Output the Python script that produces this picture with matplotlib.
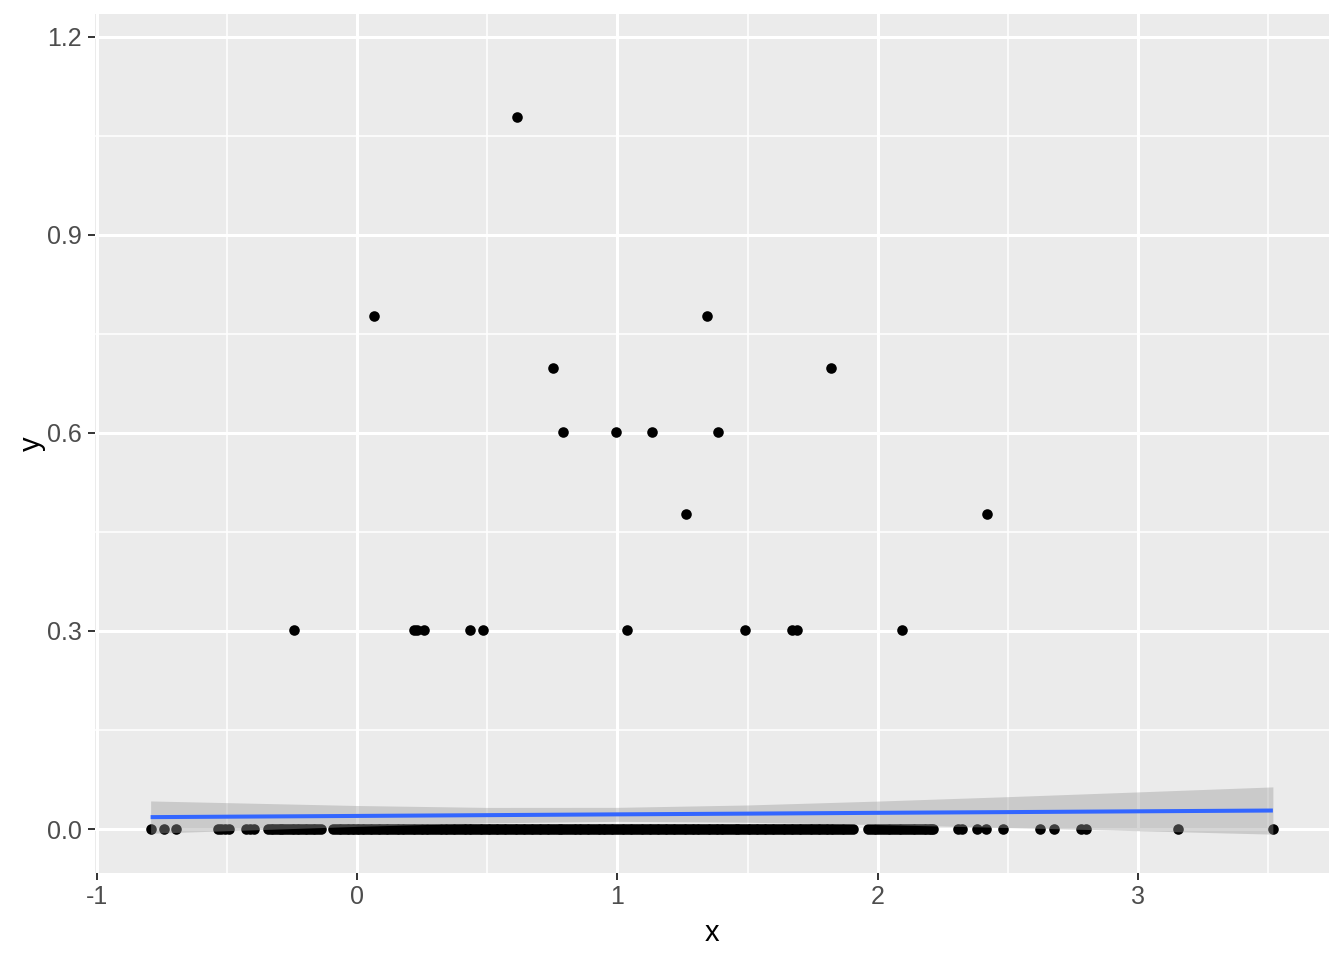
import numpy as np
import matplotlib
matplotlib.use("Agg")
import matplotlib.pyplot as plt

plt.rcParams['font.family'] = ['Liberation Sans', 'DejaVu Sans']
plt.rcParams['axes.unicode_minus'] = False

# points with y > 0
x_hi = [-0.243, 0.065, 0.220, 0.229, 0.256, 0.433, 0.483, 0.615, 0.752, 0.790,
        0.994, 1.036, 1.132, 1.263, 1.343, 1.386, 1.489, 1.672, 1.689, 1.820,
        2.093, 2.419]
y_hi = [0.301, 0.778, 0.301, 0.301, 0.301, 0.301, 0.301, 1.079, 0.699, 0.602,
        0.602, 0.301, 0.602, 0.477, 0.778, 0.602, 0.301, 0.301, 0.301, 0.699,
        0.301, 0.477]

# points lying on y = 0
x_zero = [-0.793, -0.743, -0.695,
          -0.535, -0.521, -0.507, -0.493,
          -0.425, -0.410, -0.397,
          -0.343, -0.322, -0.301, -0.283, -0.262, -0.241, -0.222, -0.201, -0.182,
          -0.160, -0.140,
          -0.092, -0.071, -0.050, -0.031, -0.012,
          0.008, 0.027, 0.049, 0.068, 0.090, 0.111, 0.130, 0.152, 0.171, 0.193,
          0.214, 0.233, 0.255, 0.274, 0.296, 0.317, 0.336, 0.358, 0.377, 0.399,
          0.420, 0.439, 0.461, 0.480, 0.502, 0.523, 0.542, 0.564, 0.583, 0.605,
          0.626, 0.645, 0.667, 0.686, 0.708, 0.729, 0.748, 0.770, 0.789, 0.811,
          0.832, 0.851, 0.873, 0.892, 0.914, 0.935, 0.954, 0.976, 0.995, 1.017,
          1.038, 1.057, 1.079, 1.098, 1.120, 1.141, 1.160, 1.182, 1.201, 1.223,
          1.244, 1.263, 1.285, 1.304, 1.326, 1.347, 1.366, 1.388, 1.407, 1.429,
          1.450, 1.469, 1.491, 1.510, 1.532, 1.553, 1.572, 1.594, 1.613, 1.635,
          1.656, 1.675, 1.697, 1.716, 1.738, 1.759, 1.778, 1.800, 1.819, 1.841,
          1.862, 1.881, 1.907,
          1.963, 1.984, 2.006, 2.027, 2.049, 2.070, 2.091, 2.113, 2.134, 2.156,
          2.177, 2.196, 2.214,
          2.310, 2.325, 2.380, 2.415, 2.480, 2.624, 2.676, 2.780, 2.800,
          3.153, 3.518]

# more zeros inside the solid stretches of the band
x_zero_more = [-0.332, -0.311, -0.292, -0.272, -0.251, -0.231, -0.211, -0.191,
               -0.171, -0.150,
               -0.081, -0.060, -0.040, -0.021, -0.002,
               0.018, 0.038, 0.058, 0.079, 0.100, 0.120, 0.141, 0.161, 0.182,
               0.203, 0.224, 0.244, 0.265, 0.285, 0.306, 0.327, 0.347, 0.367,
               0.388, 0.409, 0.430, 0.450, 0.471, 0.491, 0.512, 0.533, 0.553,
               0.573, 0.594, 0.615, 0.636, 0.656, 0.677, 0.697, 0.718, 0.739,
               0.759, 0.779, 0.800, 0.821, 0.842, 0.862, 0.883, 0.903, 0.924,
               0.945, 0.965, 0.985, 1.006, 1.027, 1.048, 1.068, 1.089, 1.109,
               1.130, 1.151, 1.171, 1.191, 1.212, 1.233, 1.254, 1.274, 1.295,
               1.315, 1.336, 1.357, 1.377, 1.397, 1.418, 1.439, 1.460, 1.480,
               1.501, 1.521, 1.542, 1.563, 1.583, 1.603, 1.624, 1.645, 1.666,
               1.686, 1.707, 1.727, 1.748, 1.769, 1.789, 1.809, 1.830, 1.851,
               1.872, 1.894,
               1.973, 1.995, 2.016, 2.038, 2.059, 2.080, 2.102, 2.123, 2.145,
               2.166, 2.187, 2.205]

# linear smooth
smooth_x = [-0.793, 0.0, 0.5, 1.0, 1.5, 2.0, 2.5, 3.0, 3.518]
smooth_fit = [0.0180, 0.0198, 0.0210, 0.0222, 0.0233, 0.0245, 0.0256, 0.0268, 0.0280]
smooth_se = [0.0245, 0.0158, 0.0117, 0.0106, 0.0131, 0.0178, 0.0234, 0.0294, 0.0358]

x_ticks = [-1, 0, 1, 2, 3]
y_ticks = [0.0, 0.3, 0.6, 0.9, 1.2]

zeros = x_zero + x_zero_more
x_all = np.array(x_hi + zeros)
y_all = np.array(y_hi + [0.0] * len(zeros))
fit = np.array(smooth_fit)
se = np.array(smooth_se)

fig = plt.figure(figsize=(13.44, 9.6), dpi=100)
ax = fig.add_axes([94.5 / 1344, 1 - 872.7 / 960, (1329 - 94.5) / 1344, (872.7 - 14) / 960])
ax.set_facecolor('#EBEBEB')

ax.scatter(x_all, y_all, s=58, color='black', linewidths=0, zorder=3)
ax.fill_between(smooth_x, fit - se, fit + se, color='#999999', alpha=0.4, linewidth=0, zorder=4)
ax.plot(smooth_x, fit, color='#3366FF', linewidth=2.9, zorder=5, solid_capstyle='butt')

ax.set_xlim(-1.0086, 3.7336)
ax.set_ylim(-0.0662, 1.2348)
ax.set_xticks(x_ticks)
ax.set_xticklabels([str(t) for t in x_ticks])
ax.set_yticks(y_ticks)
ax.set_yticklabels(['%.1f' % t for t in y_ticks])
ax.set_xticks([-0.5, 0.5, 1.5, 2.5, 3.5], minor=True)
ax.set_yticks([0.15, 0.45, 0.75, 1.05], minor=True)

ax.grid(which='major', color='white', linewidth=2.2)
ax.grid(which='minor', color='white', linewidth=1.1)
ax.set_axisbelow(True)
for s in ax.spines.values():
    s.set_visible(False)

ax.tick_params(which='major', length=5, width=1.4, color='#333333',
               labelcolor='#4D4D4D', labelsize=18, pad=4)
ax.tick_params(which='minor', length=0)

ax.set_xlabel('x', fontsize=21, color='black', labelpad=7)
ax.set_ylabel('y', fontsize=21, color='black', labelpad=1)

plt.savefig('out.png', dpi=100)
